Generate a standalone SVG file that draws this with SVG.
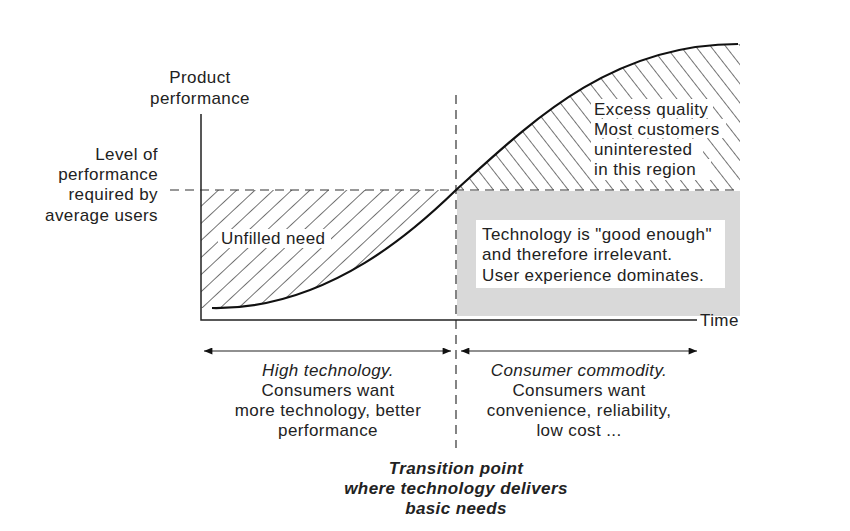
<svg xmlns="http://www.w3.org/2000/svg" width="850" height="531" viewBox="0 0 850 531">
<style>
text{font-family:"Liberation Sans",Arial,sans-serif;font-size:17px;letter-spacing:0.4px;fill:#222}
.it{font-style:italic}
.bi{font-style:italic;font-weight:bold}
.mid{text-anchor:middle}
.end{text-anchor:end}
.dash{stroke:#333;stroke-width:1.2;stroke-dasharray:9,6;fill:none}
.ax{stroke:#222;stroke-width:1.5;fill:none}
.arr{stroke:#222;stroke-width:1.2;fill:none;marker-start:url(#ah);marker-end:url(#ah)}
.wb{fill:#fff}
</style>
<defs>
<marker id="ah" viewBox="0 0 12 10" refX="12" refY="5" markerWidth="12" markerHeight="7" orient="auto-start-reverse" markerUnits="userSpaceOnUse"><path d="M0,0L12,5L0,10z" fill="#111"/></marker>
<pattern id="fw" width="12.5" height="20" patternUnits="userSpaceOnUse" patternTransform="rotate(47)"><line x1="0" y1="0" x2="0" y2="20" stroke="#2a2a2a" stroke-width="1.3"/></pattern>
<pattern id="bk" width="11.8" height="20" patternUnits="userSpaceOnUse" patternTransform="rotate(-38)"><line x1="0" y1="0" x2="0" y2="20" stroke="#2a2a2a" stroke-width="1.3"/></pattern>
<clipPath id="cl"><path d="M201,190 L456,190 C420,225 330,310 212,308 L201,308 Z"/></clipPath>
<clipPath id="cr"><path d="M456,190 C530,123 610,44 738,44 L740,44 L740,190 Z"/></clipPath>
</defs>
<rect width="850" height="531" fill="#fff"/>
<g id="gray-region"><rect x="457" y="191" width="283" height="125" fill="#d9d9d9"/><rect x="476" y="220" width="249" height="68" fill="#fff"/></g>
<g id="hatch-left"><rect x="201" y="150" width="260" height="170" fill="url(#fw)" clip-path="url(#cl)"/></g>
<g id="hatch-right"><rect x="450" y="40" width="300" height="155" fill="url(#bk)" clip-path="url(#cr)"/></g>
<g id="connectors">
<path class="dash" d="M170,190 H740"/>
<path class="dash" d="M456,95 V448"/>
<path class="ax" d="M201,114 V320 H697"/>
<path d="M212,308 C330,310 420,225 456,190 C530,123 610,44 738,44" fill="none" stroke="#111" stroke-width="2.2"/>
<path class="arr" d="M204,351 H451"/>
<path class="arr" d="M461,351 H697"/>
</g>
<g id="label-yaxis"><text class="mid" x="200" y="83">Product</text><text class="mid" x="200" y="104">performance</text></g>
<g id="label-level"><text class="end" x="158" y="160">Level of</text><text class="end" x="158" y="180">performance</text><text class="end" x="158" y="200">required by</text><text class="end" x="158" y="221">average users</text></g>
<g id="label-unfilled"><rect class="wb" x="218" y="229" width="113" height="19"/><text x="221" y="244">Unfilled need</text></g>
<g id="label-excess"><rect class="wb" x="591" y="99" width="122" height="19"/><rect class="wb" x="591" y="119" width="135" height="19"/><rect class="wb" x="591" y="139" width="112" height="20"/><rect class="wb" x="591" y="159" width="120" height="21"/><text x="594" y="115">Excess quality</text><text x="594" y="135">Most customers</text><text x="594" y="155">uninterested</text><text x="594" y="175">in this region</text></g>
<g id="label-good"><text x="482" y="240">Technology is "good enough"</text><text x="482" y="260">and therefore irrelevant.</text><text x="482" y="281">User experience dominates.</text></g>
<g id="label-time"><text x="700" y="326">Time</text></g>
<g id="label-high"><text class="mid it" x="328" y="376">High technology.</text><text class="mid" x="328" y="396">Consumers want</text><text class="mid" x="328" y="416">more technology, better</text><text class="mid" x="328" y="436">performance</text></g>
<g id="label-commodity"><text class="mid it" x="579" y="376">Consumer commodity.</text><text class="mid" x="579" y="396">Consumers want</text><text class="mid" x="579" y="416">convenience, reliability,</text><text class="mid" x="579" y="436">low cost ...</text></g>
<g id="label-transition"><text class="mid bi" x="456" y="474">Transition point</text><text class="mid bi" x="456" y="494">where technology delivers</text><text class="mid bi" x="456" y="514">basic needs</text></g>
</svg>
